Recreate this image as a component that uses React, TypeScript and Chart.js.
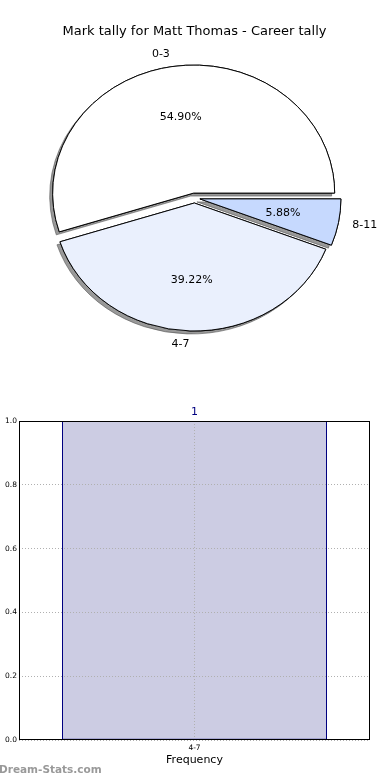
import React, { useEffect, useRef } from 'react';
import { Chart, registerables } from 'chart.js';

Chart.register(...registerables);

// ---- data ----
const chartTitle = 'Mark tally for Matt Thomas - Career tally';
const pieLabels = ['0-3', '4-7', '8-11'];
const pieCounts = [28, 20, 3];
const pieColors = ['#ffffff', '#eaf0fd', '#c6d9fe'];

const barCategories = ['4-7'];
const barValues = [1];
const yTickValues = [0, 0.2, 0.4, 0.6, 0.8, 1.0];
const xAxisTitle = 'Frequency';
const watermark = 'Dream-Stats.com';

// ---- style ----
const FONT = "'DejaVu Sans', sans-serif";
const RADIUS = 141;
const SY = 128 / 141;
const EXPLODE = 5.5;

const piePlugin = {
  id: 'pieDecor',
  beforeDatasetsDraw(chart: any) {
    const ctx = chart.ctx;
    const meta = chart.getDatasetMeta(0);
    const arcs = meta.data;
    const cx = arcs[0].x;
    const cy = arcs[0].y;
    const drawArcs = (withShadow: boolean) => {
      arcs.forEach((a: any) => {
        const mid = (a.startAngle + a.endAngle) / 2;
        ctx.save();
        if (withShadow) {
          ctx.shadowColor = 'rgba(70,70,70,0.55)';
          ctx.shadowOffsetX = -3;
          ctx.shadowOffsetY = 3;
          ctx.shadowBlur = 0;
        }
        ctx.translate(cx, cy);
        ctx.scale(1, SY);
        ctx.translate(-cx, -cy);
        ctx.translate(Math.cos(mid) * EXPLODE, Math.sin(mid) * EXPLODE);
        a.draw(ctx, chart.chartArea);
        ctx.restore();
      });
    };
    drawArcs(true);
    drawArcs(false);

    // labels
    const data: number[] = chart.data.datasets[0].data;
    const labels: string[] = chart.data.labels;
    const total = data.reduce((p, q) => p + q, 0);
    ctx.save();
    ctx.font = `11px ${FONT}`;
    ctx.fillStyle = '#000';
    ctx.textBaseline = 'middle';
    arcs.forEach((a: any, i: number) => {
      const mid = (a.startAngle + a.endAngle) / 2;
      const c = Math.cos(mid);
      const s = Math.sin(mid);
      const R = a.outerRadius;
      const pr = EXPLODE + 0.6 * R;
      ctx.textAlign = 'center';
      ctx.fillText(((data[i] / total) * 100).toFixed(2) + '%', a.x + pr * c, a.y + pr * s * SY);
      const lr = EXPLODE + 1.1 * R;
      ctx.textAlign = c > 0 ? 'left' : 'right';
      ctx.fillText(labels[i], a.x + lr * c, a.y + lr * s * SY);
    });
    ctx.restore();
    return false;
  },
};

const barPlugin = {
  id: 'barDecor',
  afterDatasetsDraw(chart: any) {
    const ctx = chart.ctx;
    const meta = chart.getDatasetMeta(0);
    const data: number[] = chart.data.datasets[0].data;
    ctx.save();
    ctx.font = `11px ${FONT}`;
    ctx.fillStyle = '#000080';
    ctx.textAlign = 'center';
    ctx.textBaseline = 'middle';
    meta.data.forEach((b: any, i: number) => {
      ctx.fillText(String(data[i]), b.x, b.y - 9);
    });
    ctx.restore();
  },
  afterDraw(chart: any) {
    const ctx = chart.ctx;
    const a = chart.chartArea;
    ctx.save();
    ctx.strokeStyle = '#000';
    ctx.lineWidth = 1;
    const l = Math.round(a.left) + 0.5;
    const t = Math.round(a.top) + 0.5;
    const r = Math.round(a.right) - 0.5;
    const b = Math.round(a.bottom) - 0.5;
    ctx.strokeRect(l, t, r - l, b - t);
    ctx.restore();
  },
};

function PieChart() {
  const ref = useRef<HTMLCanvasElement>(null);
  useEffect(() => {
    const order = [2, 1, 0]; // clockwise from 3 o'clock
    const chart = new Chart(ref.current as HTMLCanvasElement, {
      type: 'pie',
      data: {
        labels: order.map((i) => pieLabels[i]),
        datasets: [
          {
            data: order.map((i) => pieCounts[i]),
            backgroundColor: order.map((i) => pieColors[i]),
            borderColor: '#000',
            borderWidth: 1,
            offset: 0,
            hoverOffset: 0,
            radius: RADIUS,
            borderJoinStyle: 'miter',
            clip: false,
          } as any,
        ],
      },
      options: {
        responsive: false,
        animation: false,
        events: [],
        rotation: 90,
        layout: { padding: { left: 0, right: 1, top: 0, bottom: 33.6 } },
        plugins: {
          legend: { display: false },
          tooltip: { enabled: false },
          title: {
            display: true,
            text: chartTitle,
            color: '#000',
            font: { family: FONT, size: 13, weight: 'normal' },
            padding: { top: 24, bottom: 0 },
          },
        },
      } as any,
      plugins: [piePlugin],
    });
    return () => chart.destroy();
  }, []);
  return <canvas ref={ref} width={390} height={390} style={{ display: 'block' }} />;
}

function BarChart() {
  const ref = useRef<HTMLCanvasElement>(null);
  useEffect(() => {
    const chart = new Chart(ref.current as HTMLCanvasElement, {
      type: 'bar',
      data: {
        labels: barCategories,
        datasets: [
          {
            data: barValues,
            backgroundColor: '#ccccE3',
            borderColor: '#000080',
            borderWidth: 1,
            borderSkipped: false,
            barPercentage: 265 / 351,
            categoryPercentage: 1,
          },
        ],
      },
      options: {
        responsive: false,
        animation: false,
        events: [],
        layout: { padding: { left: 0, right: 20, top: 31, bottom: 0 } },
        plugins: { legend: { display: false }, tooltip: { enabled: false } },
        scales: {
          x: {
            offset: true,
            grid: { offset: false, color: '#b0b0b0', lineWidth: 1, drawTicks: false, z: 1 },
            border: { display: false, dash: [1, 2] },
            ticks: { font: { family: FONT, size: 7.5 }, color: '#000', padding: 4 },
            title: {
              display: true,
              text: xAxisTitle,
              color: '#000',
              font: { family: FONT, size: 11 },
              padding: { top: 0, bottom: 13 },
            },
            afterFit: (s: any) => {
              s.height = 40;
            },
          },
          y: {
            min: 0,
            max: 1,
            afterBuildTicks: (s: any) => {
              s.ticks = yTickValues.map((v) => ({ value: v }));
            },
            grid: { color: '#b0b0b0', lineWidth: 1, drawTicks: false, z: 1 },
            border: { display: false, dash: [1, 2] },
            ticks: {
              font: { family: FONT, size: 7.5 },
              color: '#000',
              padding: 2,
              callback: (v: any) => Number(v).toFixed(1),
            },
            afterFit: (s: any) => {
              s.width = 19;
            },
          },
        },
      } as any,
      plugins: [barPlugin],
    });
    return () => chart.destroy();
  }, []);
  return <canvas ref={ref} width={390} height={390} style={{ display: 'block' }} />;
}

export default function App() {
  return (
    <div
      style={{
        position: 'absolute',
        left: 0,
        top: 0,
        width: 390,
        height: 780,
        background: '#fff',
        overflow: 'hidden',
      }}
    >
      <PieChart />
      <BarChart />
      <div
        style={{
          position: 'absolute',
          left: -1,
          top: 763,
          fontFamily: FONT,
          fontSize: 10.5,
          lineHeight: '12px',
          color: '#999999',
          fontWeight: 'bold',
          whiteSpace: 'nowrap',
        }}
      >
        {watermark}
      </div>
    </div>
  );
}
